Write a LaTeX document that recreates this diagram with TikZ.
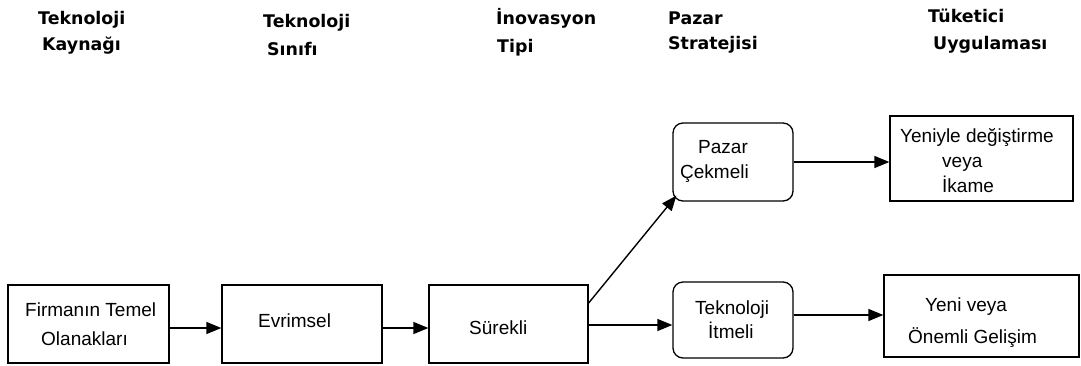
\documentclass[tikz,border=0pt]{standalone}
\usepackage{fontspec}
\setmainfont{Liberation Sans}
\newfontfamily\hdrfont{DejaVu Sans}
\usetikzlibrary{arrows.meta}
\begin{document}
\begin{tikzpicture}[x=1pt,y=-1pt,
  boxstyle/.style={draw=black,line width=1.3pt,inner sep=0pt,fill=white},
  sqbox/.style={boxstyle},
  rbox/.style={boxstyle,rounded corners=10pt},
  hdr/.style={anchor=base west,inner sep=0pt,font=\hdrfont\bfseries\fontsize{17.4}{20}\selectfont},
  txt/.style={anchor=base west,inner sep=0pt,font=\fontsize{19}{24}\selectfont},
  arr/.style={draw=black,line width=1.4pt,-{Triangle[length=15pt,width=12pt]}}]
\useasboundingbox (0,0) rectangle (1081,365);
\fill[white] (0,0) rectangle (1081,365);

% headers
\node[hdr] (h1a) at (38,24) {Teknoloji};
\node[hdr] (h1b) at (42,50) {Kaynağı};
\node[hdr] (h2a) at (263,27) {Teknoloji};
\node[hdr] (h2b) at (267,55) {Sınıfı};
\node[hdr] (h3a) at (496,24) {İnovasyon};
\node[hdr] (h3b) at (497,52) {Tipi};
\node[hdr] (h4a) at (668,24) {Pazar};
\node[hdr] (h4b) at (668,49) {Stratejisi};
\node[hdr] (h5a) at (928,22) {Tüketici};
\node[hdr] (h5b) at (933,49) {Uygulaması};

% boxes
\node[sqbox,minimum width=161pt,minimum height=78pt] (b1) at (88.5,324) {};
\node[sqbox,minimum width=160pt,minimum height=78pt] (b2) at (302,324) {};
\node[sqbox,minimum width=159pt,minimum height=78pt] (b3) at (508.5,324) {};
\node[rbox,minimum width=120pt,minimum height=78pt] (pz) at (733,162) {};
\node[rbox,minimum width=120pt,minimum height=76pt] (ti) at (733,320) {};
\node[sqbox,minimum width=183pt,minimum height=85pt] (yd) at (981.5,158.5) {};
\node[sqbox,minimum width=195pt,minimum height=82pt] (yv) at (981.5,316) {};

% box texts
\node[txt] (t1a) at (25,316) {Firmanın Temel};
\node[txt] (t1b) at (41,345) {Olanakları};
\node[txt] (t2) at (258,327) {Evrimsel};
\node[txt] (t3) at (469,334) {Sürekli};
\node[txt] (tpa) at (698,153) {Pazar};
\node[txt] (tpb) at (680,178) {Çekmeli};
\node[txt] (tya) at (900,142) {Yeniyle değiştirme};
\node[txt] (tyb) at (942,167) {veya};
\node[txt] (tyc) at (942,192) {İkame};
\node[txt] (tta) at (695,314) {Teknoloji};
\node[txt] (ttb) at (708,338) {İtmeli};
\node[txt] (tva) at (925,311) {Yeni veya};
\node[txt] (tvb) at (908,343) {Önemli Gelişim};

% connectors
\draw[arr] ([yshift=-4pt]b1.east) -- ([yshift=-4pt]b2.west);
\draw[arr] ([yshift=-4pt]b2.east) -- ([yshift=-4pt]b3.west);
\draw[arr] ([yshift=-1pt]b3.east) -- ([yshift=-5pt]ti.west);
\draw[arr] ([yshift=21pt]b3.east) -- ([xshift=4pt,yshift=6pt]pz.south west);
\draw[arr] (pz.east) -- ([yshift=-3.5pt]yd.west);
\draw[arr] ([yshift=5pt]ti.east) -- ([yshift=1pt]yv.west);
\end{tikzpicture}
\end{document}
